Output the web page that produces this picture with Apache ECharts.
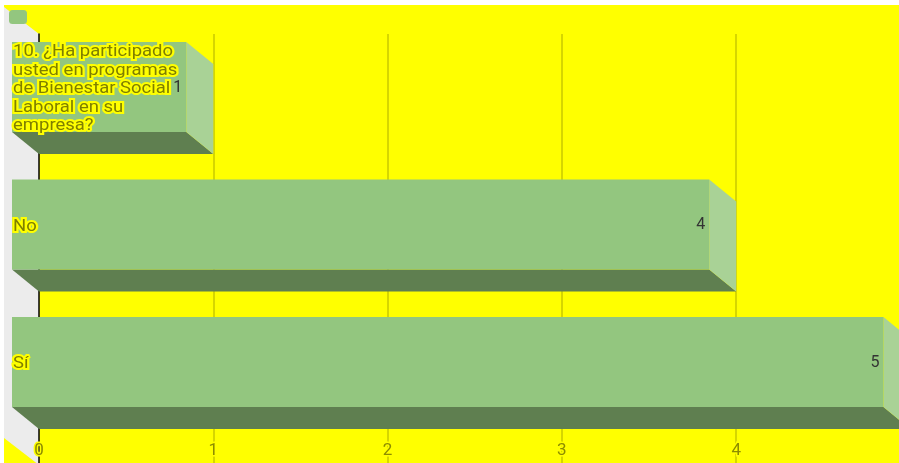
<!DOCTYPE html>
<html><head><meta charset="utf-8">
<script src="https://cdn.jsdelivr.net/npm/echarts@6/dist/echarts.min.js"></script>
<style>html,body{margin:0;padding:0;background:#fff;width:899px;height:463px;overflow:hidden}
#c{position:absolute;left:4px;top:5px;width:895px;height:458px}</style></head><body><div id="c"></div>
<script>
const categories = ['10. ¿Ha participado\nusted en programas\nde Bienestar Social\nLaboral en su\nempresa?', 'No', 'Sí'];
const values = [1, 4, 5];
const tickMax = 5;

const DX = 27, DY = 22, BAR = 0.6545, STRETCH = 1.12;
const chart = echarts.init(document.getElementById('c'));
const font = 'Roboto';
function renderBar(params, api) {
  const i = api.value(0), v = api.value(1);
  const a = api.coord([0, i]), b = api.coord([v, i]);
  const h = api.size([0, BAR])[1];
  const x0 = a[0] - DX, x1 = b[0] - DX, y0 = a[1] - h / 2 - DY, y1 = a[1] + h / 2 - DY;
  return { type: 'group', children: [
    { type: 'polygon', shape: { points: [[x0,y1],[x1,y1],[x1+DX,y1+DY],[x0+DX,y1+DY]] }, style: { fill: '#5f7f50' } },
    { type: 'polygon', shape: { points: [[x1,y0],[x1+DX,y0+DY],[x1+DX,y1+DY],[x1,y1]] }, style: { fill: '#a9d296' } },
    { type: 'rect', shape: { x: x0, y: y0, width: x1 - x0, height: y1 - y0 }, style: { fill: '#93c67f' } },
    { type: 'text', scaleX: STRETCH, originX: x0 + 1, originY: (y0 + y1) / 2,
      style: { text: categories[i], x: x0 + 1, y: (y0 + y1) / 2 + 2, lineHeight: 18.5,
        font: '16.5px ' + font, fill: '#7f7f00', stroke: '#ffff00', lineWidth: 4, verticalAlign: 'middle', align: 'left' } },
    { type: 'text', style: { text: String(v), x: x1 - 4, y: (y0 + y1) / 2 + 1, font: '16px ' + font, fill: '#333',
        align: 'right', verticalAlign: 'middle' } }
  ] };
}
function renderWall(params, api) {
  const t = api.coord([0, -0.54545]), b = api.coord([0, 2.57455]);
  return { type: 'polygon', shape: { points: [[t[0],t[1]],[b[0],b[1]+2],[b[0]-35,b[1]-25],[t[0]-35,t[1]-27]] }, style: { fill: '#ececec' } };
}
chart.setOption({
  animation: false,
  backgroundColor: '#ffff00',
  textStyle: { fontFamily: font },
  legend: { show: true, left: 5, top: 5, padding: 0, itemWidth: 18, itemHeight: 14, icon: 'roundRect',
    data: ['Respuestas'], formatter: () => '', selectedMode: false, itemStyle: { color: '#93c67f' } },
  grid: { left: 35, top: 29, width: 871.5, height: 429, outerBoundsMode: 'none' },
  xAxis: { type: 'value', min: 0, max: tickMax, interval: 1, position: 'bottom',
    axisLine: { show: false }, axisTick: { show: false },
    splitLine: { show: true, showMinLine: false, lineStyle: { color: '#c9c900', width: 1.5 } },
    axisLabel: { inside: true, margin: 4, fontSize: 17, fontFamily: font, color: '#8c8c00', textBorderColor: '#ffff00', textBorderWidth: 3 } },
  yAxis: { type: 'value', inverse: true, min: -0.54545, max: 2.57455, position: 'left',
    axisLine: { show: true, onZero: false, lineStyle: { color: '#000', width: 1.5 } }, axisTick: { show: false }, axisLabel: { show: false }, splitLine: { show: false } },
  series: [
    { type: 'custom', name: 'pared', z: -1, silent: true, renderItem: renderWall, data: [[0, 0]], encode: { x: 0, y: 1 } },
    { type: 'custom', name: 'Respuestas', z: 3, renderItem: renderBar, itemStyle: { color: '#93c67f' },
      data: values.map((v, i) => [i, v]), encode: { x: 1, y: 0 }, clip: false }
  ]
});
</script></body></html>
